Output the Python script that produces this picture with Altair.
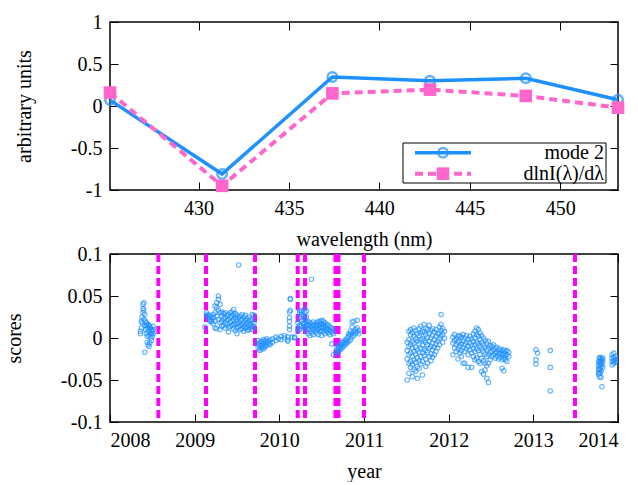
import altair as alt
import pandas as pd

FONT = "Liberation Serif, Times New Roman, serif"
BLUE = "#1E90FF"
PINK = "#FF66CC"
MAGENTA = "#FF00FF"

# ---- top panel data ----
wavelength = [425.1, 431.3, 437.4, 442.8, 448.1, 453.2]
mode2 = [0.07, -0.81, 0.345, 0.30, 0.33, 0.075]
dlnI = [0.16, -0.95, 0.15, 0.195, 0.12, -0.02]
wl_ticks = [430, 435, 440, 445, 450]
au_ticks = [-1, -0.5, 0, 0.5, 1]

# ---- bottom panel data ----
events = [2008.571, 2009.134, 2009.713, 2010.217, 2010.303, 2010.663, 2010.699, 2011.0, 2013.492]
year_ticks = [2008, 2009, 2010, 2011, 2012, 2013, 2014]
score_ticks = [-0.1, -0.05, 0, 0.05, 0.1]

c2008 = [
    (2008.36, [0.008, 0.005]), (2008.37, [0.012, 0.020]), (2008.38, [0.018, 0.025]),
    (2008.39, [0.030, 0.035, 0.040]), (2008.40, [0.042, 0.033, 0.022]),
    (2008.41, [0.015, 0.028, -0.017]), (2008.42, [0.010, 0.020]),
    (2008.43, [0.005, 0.015, 0.018]), (2008.44, [0.002, 0.012, -0.005]),
    (2008.45, [0.016, -0.008, 0.008]), (2008.46, [0.015, 0.003, -0.010]),
    (2008.47, [0.010, -0.006, 0.013]), (2008.48, [0.012, 0.000, 0.006]),
    (2008.49, [0.005, -0.003, 0.009]), (2008.50, [0.008, 0.002]), (2008.51, [0.005, 0.010, 0.014]),
]
c2009 = [
    (2009.12, [0.013]), (2009.14, [0.030, 0.027]), (2009.16, [0.028, 0.024]),
    (2009.18, [0.022, 0.026, 0.020]), (2009.20, [0.025, 0.021, 0.019]),
    (2009.22, [0.024, 0.028, 0.017]), (2009.24, [0.030, 0.038, 0.020, 0.012]),
    (2009.26, [0.036, 0.042, 0.026, 0.011]), (2009.28, [0.046, 0.050, 0.033, 0.022]),
    (2009.30, [0.040, 0.030, 0.018, 0.010]), (2009.32, [0.031, 0.026, 0.020, 0.014]),
    (2009.34, [0.029, 0.023, 0.015]), (2009.36, [0.030, 0.024, 0.018, 0.012]),
    (2009.38, [0.027, 0.021, 0.016]), (2009.40, [0.028, 0.022, 0.013, 0.007]),
    (2009.42, [0.030, 0.025, 0.019, 0.014]), (2009.44, [0.031, 0.026, 0.020, 0.015]),
    (2009.46, [0.034, 0.028, 0.022, 0.016, 0.011]), (2009.48, [0.029, 0.024, 0.017, 0.009]),
    (2009.50, [0.027, 0.022, 0.017, 0.012, 0.005]), (2009.52, [0.087, 0.024, 0.018, 0.013]),
    (2009.54, [0.026, 0.021, 0.015, 0.010]), (2009.56, [0.028, 0.022, 0.017, 0.011]),
    (2009.58, [0.025, 0.019, 0.014, 0.008]), (2009.60, [0.027, 0.021, 0.016, 0.012]),
    (2009.62, [0.023, 0.018, 0.013, 0.009]), (2009.64, [0.025, 0.020, 0.015, 0.010]),
    (2009.66, [0.022, 0.017, 0.012]), (2009.68, [0.028, 0.020, 0.014, 0.010]),
    (2009.70, [0.027, 0.018, 0.013]),
]
c2010a = [
    (2009.75, [-0.003, -0.007, -0.011]), (2009.77, [-0.005, -0.009, -0.013, -0.015]),
    (2009.79, [-0.004, -0.008, -0.012]), (2009.81, [-0.002, -0.006, -0.010, -0.013]),
    (2009.83, [-0.003, -0.008, -0.011]), (2009.85, [-0.001, -0.005, -0.009]),
    (2009.87, [-0.004, -0.007]), (2009.89, [-0.002, -0.006, -0.008]),
    (2009.92, [-0.001, -0.005]), (2009.96, [0.001, -0.003]), (2009.99, [-0.001]),
    (2010.02, [0.002, -0.002]), (2010.06, [0.003, 0.000]), (2010.10, [-0.002, -0.004, 0.001]),
    (2010.12, [0.010, 0.014, 0.020, 0.024, 0.031]), (2010.13, [0.046, 0.047, 0.033]),
    (2010.15, [0.001]), (2010.18, [0.000, 0.001]),
]
c2010b = [
    (2010.22, [0.012, 0.008, 0.018]), (2010.24, [0.030, 0.033, 0.025, 0.015, 0.010]),
    (2010.26, [0.031, 0.028, 0.020, 0.014]), (2010.28, [0.027, 0.022, 0.017, 0.012]),
    (2010.30, [0.035, 0.030, 0.024, 0.018, 0.013]), (2010.32, [0.032, 0.025, 0.019, 0.015, 0.008]),
    (2010.34, [0.020, 0.016, 0.011, 0.005]), (2010.36, [0.018, 0.014, 0.010, 0.003]),
    (2010.38, [0.070, 0.017, 0.012, 0.006]), (2010.40, [0.019, 0.015, 0.010, 0.004]),
    (2010.42, [0.016, 0.012, 0.008]), (2010.44, [0.018, 0.014, 0.010, 0.006]),
    (2010.46, [0.020, 0.015, 0.011, 0.004]), (2010.48, [0.019, 0.016, 0.012, 0.008]),
    (2010.50, [0.021, 0.017, 0.013, 0.009, 0.003]), (2010.52, [0.020, 0.016, 0.012, 0.007]),
    (2010.54, [0.018, 0.014, 0.010, 0.005]), (2010.56, [0.016, 0.012, 0.008]),
    (2010.58, [0.015, 0.010, 0.006]), (2010.60, [0.013, 0.009, 0.004]),
    (2010.62, [0.012, 0.007, -0.007]), (2010.64, [0.010, 0.005, -0.020]),
]
c2010c = [
    (2010.68, [-0.012, -0.018, -0.015]), (2010.70, [-0.010, -0.016, -0.013]),
    (2010.72, [-0.008, -0.014, -0.011]), (2010.74, [-0.006, -0.012, -0.009]),
    (2010.76, [-0.004, -0.010, -0.007]), (2010.78, [-0.002, -0.008, -0.005]),
    (2010.80, [0.000, -0.006, -0.003]), (2010.82, [0.002, -0.004, 0.005]),
    (2010.84, [0.004, -0.002, 0.008]), (2010.86, [0.006, 0.001, 0.019, 0.013]),
    (2010.88, [0.008, 0.003, 0.020]), (2010.90, [0.006, 0.010]),
    (2010.92, [0.007, 0.012, 0.021]), (2010.94, [0.009, 0.005]),
]
c2011 = [
    (2011.51, [-0.005, -0.015, -0.025, -0.050]), (2011.53, [0.008, -0.002, -0.010, -0.020, -0.030, -0.042]),
    (2011.55, [0.010, 0.004, -0.008, -0.018, -0.028, -0.035]), (2011.57, [0.006, -0.004, -0.012, -0.022, -0.032, -0.046]),
    (2011.59, [0.012, 0.002, -0.006, -0.016, -0.026, -0.038]), (2011.61, [0.009, -0.001, -0.011, -0.019, -0.029, -0.040]),
    (2011.63, [0.005, -0.004, -0.014, -0.024, -0.034, -0.048]), (2011.65, [0.011, 0.003, -0.007, -0.017, -0.027, -0.036]),
    (2011.67, [0.014, 0.006, -0.002, -0.012, -0.022, -0.031]), (2011.69, [0.008, -0.001, -0.009, -0.018, -0.028, -0.044]),
    (2011.71, [0.016, 0.007, -0.003, -0.013, -0.021]), (2011.73, [0.012, 0.004, -0.005, -0.015, -0.025, -0.034]),
    (2011.75, [0.010, 0.001, -0.008, -0.017, -0.030]), (2011.77, [0.015, 0.006, -0.004, -0.012, -0.022]),
    (2011.79, [0.009, 0.000, -0.010, -0.019, -0.027]), (2011.81, [0.011, 0.003, -0.006, -0.014, -0.023]),
    (2011.83, [0.007, -0.002, -0.011, -0.020]), (2011.85, [0.010, 0.002, -0.007, -0.016]),
    (2011.87, [0.005, -0.004, -0.012]), (2011.89, [0.013, 0.006, -0.001, -0.008]),
    (2011.91, [0.028, 0.016, 0.009, 0.002]), (2011.93, [0.011, 0.004, -0.005]),
    (2011.95, [0.008, 0.000]),
]
c2012 = [
    (2012.05, [0.001, -0.006, -0.020]), (2012.07, [0.004, -0.003, -0.012]),
    (2012.09, [-0.001, -0.008, -0.016]), (2012.11, [0.002, -0.005, -0.013, -0.025]),
    (2012.13, [0.003, -0.004, -0.010, -0.018]), (2012.15, [0.001, -0.007, -0.015, -0.022]),
    (2012.17, [0.004, -0.003, -0.011, -0.030]), (2012.19, [0.000, -0.008, -0.016, -0.030]),
    (2012.21, [0.003, -0.005, -0.013]), (2012.23, [-0.002, -0.010, -0.020, -0.035]),
    (2012.25, [0.002, -0.006, -0.014]), (2012.27, [-0.001, -0.009, -0.018, -0.035]),
    (2012.29, [0.005, -0.004, -0.012, -0.022]), (2012.31, [0.008, 0.000, -0.008, -0.016, -0.026]),
    (2012.33, [0.012, 0.004, -0.005, -0.013, -0.024]), (2012.35, [0.010, 0.002, -0.007, -0.015, -0.028]),
    (2012.37, [0.006, -0.002, -0.010, -0.020, -0.030]), (2012.39, [0.003, -0.005, -0.013, -0.024, -0.040]),
    (2012.41, [0.000, -0.008, -0.016, -0.027, -0.043]), (2012.43, [-0.003, -0.011, -0.019, -0.030, -0.038]),
    (2012.45, [-0.006, -0.014, -0.022, -0.033, -0.048]), (2012.47, [-0.004, -0.012, -0.020, -0.030, -0.053]),
    (2012.49, [-0.009, -0.017, -0.026]), (2012.51, [-0.010, -0.016, -0.022]),
    (2012.53, [-0.008, -0.014, -0.020]), (2012.55, [-0.012, -0.018, -0.024]),
    (2012.57, [-0.011, -0.017, -0.022]), (2012.59, [-0.014, -0.019, -0.025]),
    (2012.61, [-0.013, -0.018, -0.023]), (2012.63, [-0.015, -0.020, -0.026, -0.036]),
    (2012.65, [-0.014, -0.019, -0.024, -0.039]), (2012.67, [-0.016, -0.021, -0.026]),
    (2012.69, [-0.015, -0.020, -0.028]), (2012.71, [-0.017, -0.022]),
]
c2013 = [
    (2013.03, [-0.014, -0.026, -0.031]), (2013.05, [-0.018]),
    (2013.20, [-0.015, -0.035, -0.063]),
    (2013.77, [-0.028, -0.033, -0.038, -0.043]), (2013.78, [-0.024, -0.030, -0.036, -0.041, -0.046]),
    (2013.79, [-0.023, -0.027, -0.032, -0.037, -0.042]), (2013.80, [-0.025, -0.029, -0.034, -0.039, -0.047]),
    (2013.81, [-0.026, -0.031, -0.058]), (2013.82, [-0.024, -0.028, -0.035]),
    (2013.93, [-0.020, -0.024, -0.028, -0.032]), (2013.95, [-0.018, -0.023, -0.027, -0.030]),
    (2013.97, [-0.022, -0.026, -0.029]), (2013.99, [-0.025, -0.028]),
]

rows = []
for cluster in [c2008, c2009, c2010a, c2010b, c2010c, c2011, c2012, c2013]:
    for yr, vals in cluster:
        for v in vals:
            rows.append({"year": yr, "score": v})
scatter_df = pd.DataFrame(rows)
events_df = pd.DataFrame({"year": events})

top_df = pd.DataFrame({"wavelength": wavelength, "mode2": mode2, "dlnI": dlnI})

W, H = 508, 168
AX = dict(labelFont=FONT, titleFont=FONT, labelFontSize=20, titleFontSize=20,
          titleFontWeight="normal", labelColor="black", titleColor="black")


def main_axis(orient, values, title, title_pad):
    return alt.Axis(orient=orient, values=values, title=title, tickSize=8, offset=-8,
                    domain=False, grid=False, labelExpr="'' + datum.value",
                    labelPadding=8, tickColor="black", tickWidth=1,
                    titlePadding=title_pad, **AX)


def mirror_axis(orient, values):
    return alt.Axis(orient=orient, values=values, title=None, labels=False, tickSize=8,
                    offset=-8, domain=False, grid=False, tickColor="black", tickWidth=1)


# ---- top panel ----
xs_top = alt.Scale(domain=[425.1, 453.2], nice=False, zero=False)
ys_top = alt.Scale(domain=[-1, 1], nice=False)
tb = alt.Chart(top_df)

blue_line = tb.mark_line(color=BLUE, strokeWidth=3.5).encode(
    x=alt.X("wavelength:Q", scale=xs_top, axis=main_axis("bottom", wl_ticks, "wavelength (nm)", 11)),
    y=alt.Y("mode2:Q", scale=ys_top, axis=main_axis("left", au_ticks, "arbitrary units", 36)),
)
blue_pts = tb.mark_point(shape="circle", filled=False, color=BLUE, size=90, strokeWidth=2.5).encode(
    x=alt.X("wavelength:Q", scale=xs_top, axis=None),
    y=alt.Y("mode2:Q", scale=ys_top, axis=None),
)
pink_line = tb.mark_line(color=PINK, strokeWidth=4, strokeDash=[8, 5]).encode(
    x=alt.X("wavelength:Q", scale=xs_top, axis=None),
    y=alt.Y("dlnI:Q", scale=ys_top, axis=None),
)
pink_pts = tb.mark_square(color=PINK, size=160, opacity=1).encode(
    x=alt.X("wavelength:Q", scale=xs_top, axis=None),
    y=alt.Y("dlnI:Q", scale=ys_top, axis=None),
)
top_mirror = tb.mark_point(opacity=0).encode(
    x=alt.X("wavelength:Q", scale=xs_top, axis=mirror_axis("top", wl_ticks)),
    y=alt.Y("mode2:Q", scale=ys_top, axis=mirror_axis("right", au_ticks)),
)

one = pd.DataFrame({"k": [0]})
leg_labels1 = pd.DataFrame({"label": ["mode 2"]})
leg_labels2 = pd.DataFrame({"label": ["dlnI(λ)/dλ"]})
leg_box = alt.Chart(one).mark_rect(fill="white", stroke="black", strokeWidth=1).encode(
    x=alt.value(293), x2=alt.value(496), y=alt.value(121), y2=alt.value(161))
leg_l1 = alt.Chart(one).mark_rule(color=BLUE, strokeWidth=3.5).encode(
    x=alt.value(305), x2=alt.value(361), y=alt.value(130.7))
leg_p1 = alt.Chart(one).mark_point(shape="circle", filled=False, color=BLUE, size=90, strokeWidth=2.5).encode(
    x=alt.value(333), y=alt.value(130.7))
leg_l2 = alt.Chart(one).mark_rule(color=PINK, strokeWidth=4, strokeDash=[8, 5]).encode(
    x=alt.value(305), x2=alt.value(361), y=alt.value(151.7))
leg_p2 = alt.Chart(one).mark_square(color=PINK, size=160, opacity=1).encode(
    x=alt.value(333), y=alt.value(151.7))
leg_t1 = alt.Chart(leg_labels1).mark_text(align="right", baseline="middle", font=FONT, fontSize=20, color="black").encode(
    x=alt.value(494), y=alt.value(130.7), text="label:N")
leg_t2 = alt.Chart(leg_labels2).mark_text(align="right", baseline="middle", font=FONT, fontSize=20, color="black").encode(
    x=alt.value(494), y=alt.value(151.7), text="label:N")

top = alt.layer(
    blue_line, pink_line, blue_pts, pink_pts, top_mirror,
    leg_box, leg_l1, leg_l2, leg_p1, leg_p2, leg_t1, leg_t2,
).resolve_axis(x="independent", y="independent").properties(width=W, height=H)

# ---- bottom panel ----
xs_bot = alt.Scale(domain=[2008, 2014], nice=False, zero=False)
ys_bot = alt.Scale(domain=[-0.1, 0.1], nice=False)

scatter = alt.Chart(scatter_df).mark_point(shape="circle", filled=False, color=BLUE, size=20,
                                           strokeWidth=1.1, clip=True).encode(
    x=alt.X("year:Q", scale=xs_bot, axis=main_axis("bottom", year_ticks, "year", 11)),
    y=alt.Y("score:Q", scale=ys_bot, axis=main_axis("left", score_ticks, "scores", 36)),
)
rules = alt.Chart(events_df).mark_rule(color=MAGENTA, strokeWidth=4, strokeDash=[8, 4]).encode(
    x=alt.X("year:Q", scale=xs_bot, axis=None),
)
bot_mirror = alt.Chart(scatter_df).mark_point(opacity=0).encode(
    x=alt.X("year:Q", scale=xs_bot, axis=mirror_axis("top", year_ticks)),
    y=alt.Y("score:Q", scale=ys_bot, axis=mirror_axis("right", score_ticks)),
)
bottom = alt.layer(rules, scatter, bot_mirror).resolve_axis(
    x="independent", y="independent").properties(width=W, height=H)

chart = alt.vconcat(top, bottom, spacing=-7).properties(
    padding={"left": 3, "top": 11, "right": 0, "bottom": 0},
    background="white",
).configure_view(stroke="black", strokeWidth=1.5)

chart.save("out.html", embed_options={"renderer": "svg", "actions": False})
